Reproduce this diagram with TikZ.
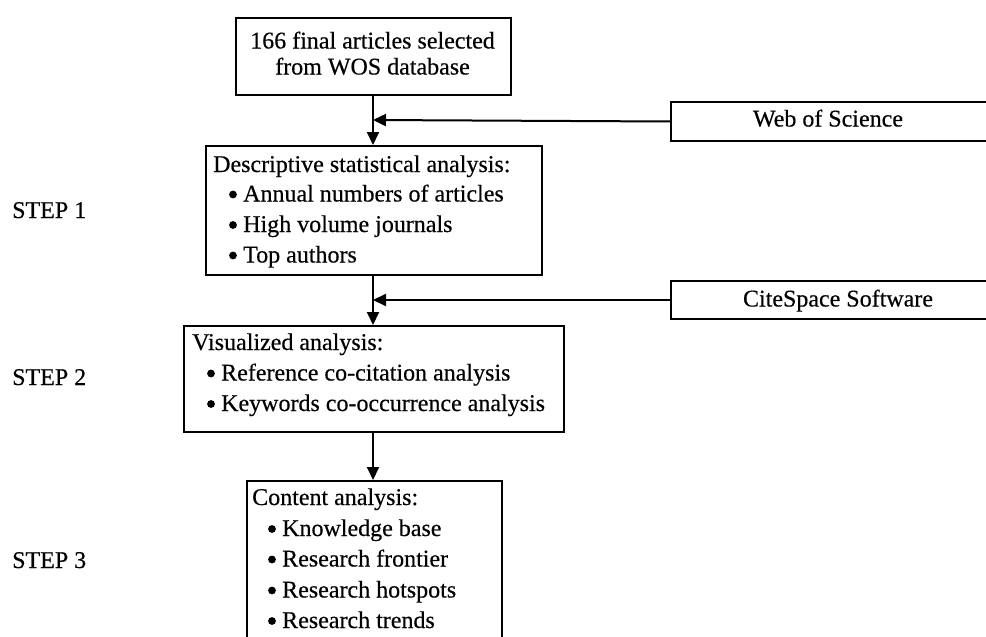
\documentclass[tikz,border=0pt]{standalone}
\usepackage{fontspec}
\setmainfont{Liberation Serif}[FakeBold=0.4]
\usetikzlibrary{arrows.meta,calc}
\begin{document}
\begin{tikzpicture}[x=1pt,y=-1pt,
  every node/.style={font=\fontsize{24}{30}\selectfont},
  box/.style={draw, line width=2pt, rectangle, inner sep=0pt, anchor=north west},
  txt/.style={inner sep=0pt, anchor=base west},
  ctxt/.style={inner sep=0pt, anchor=base},
  flow/.style={line width=2pt, -{Triangle[length=13pt,width=12pt]}}
]
\useasboundingbox (0,0) rectangle (986,637);

% ---- main flow boxes ----
\node[box, minimum width=275, minimum height=77] (b1) at (235,17) {};
\node[ctxt] (t1a) at (372.5,48.5) {166 final articles selected};
\node[ctxt] (t1b) at (372.5,74.5) {from WOS database};

\node[box, minimum width=336, minimum height=129] (b2) at (205,145) {};
\node[txt] (t2a) at (213,172) {Descriptive statistical analysis:};
\node[txt] (t2b) at (243,201.5) {Annual numbers of articles};
\node[txt] (t2c) at (243,232) {High volume journals};
\node[txt] (t2d) at (243,262.5) {Top authors};

\node[box, minimum width=380, minimum height=106] (b3) at (183,325) {};
\node[txt] (t3a) at (192,350) {Visualized analysis:};
\node[txt] (t3b) at (221,380.5) {Reference co-citation analysis};
\node[txt] (t3c) at (221,411) {Keywords co-occurrence analysis};

\node[box, minimum width=255, minimum height=180] (b4) at (246,480) {};
\node[txt] (t4a) at (252,505) {Content analysis:};
\node[txt] (t4b) at (282,536) {Knowledge base};
\node[txt] (t4c) at (282,566.5) {Research frontier};
\node[txt] (t4d) at (282,597.5) {Research hotspots};
\node[txt] (t4e) at (282,628) {Research trends};

% bullets in front of the list items
\foreach \t in {t2b,t2c,t2d,t3b,t3c,t4b,t4c,t4d,t4e}
  \fill ($(\t.base west)+(-10,-7)$) circle (3.9);

% ---- side input boxes, running off the right edge ----
\node[box, minimum width=330, minimum height=39] (wos) at (670,101) {};
\node[ctxt] (twos) at (828,126.5) {Web of Science};
\node[box, minimum width=330, minimum height=38] (cite) at (670,280) {};
\node[ctxt] (tcite) at (838,306.5) {CiteSpace Software};

% ---- step labels ----
\node[txt] (s1) at (12,218) {STEP 1};
\node[txt] (s2) at (12,385) {STEP 2};
\node[txt] (s3) at (12,568) {STEP 3};

% ---- connectors ----
\coordinate (j1) at (373,120);
\coordinate (j2) at (373,300);

\draw[flow] (b1.south -| j1) -- (b2.north -| j1);
\draw[flow] (b2.south -| j1) -- (b3.north -| j1);
\draw[flow] (b3.south -| j1) -- (b4.north -| j1);
\draw[flow] (wos.west) -- (j1);
\draw[flow] (cite.west) -- (j2);
\end{tikzpicture}
\end{document}
